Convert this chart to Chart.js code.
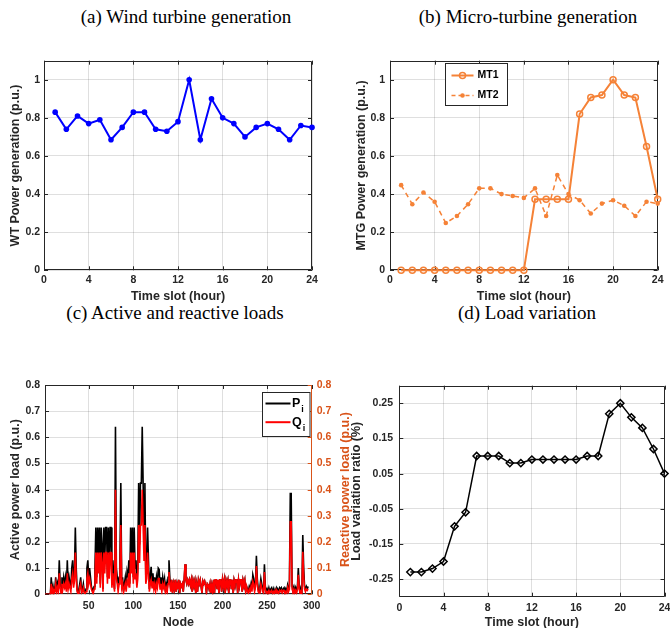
<!DOCTYPE html>
<html>
<head>
<meta charset="utf-8">
<script src="https://cdn.jsdelivr.net/npm/chart.js@4.4.0/dist/chart.umd.min.js"></script>
<style>
  html, body { margin: 0; padding: 0; background: #fff; overflow: hidden; }
  #page { position: relative; width: 670px; height: 628px; overflow: hidden; }
  canvas { position: absolute; }
  .ttl { position: absolute; font-family: 'Liberation Serif', 'Times New Roman', serif; font-size: 19px; color: #000; white-space: nowrap; transform: translate(-50%, -50%); }
</style>
</head>
<body>
<div id="page">
  <div class="ttl" style="left:186px;top:17px">(a) Wind turbine generation</div>
  <div class="ttl" style="left:528px;top:17px">(b) Micro-turbine generation</div>
  <div class="ttl" style="left:175px;top:313px">(c) Active and reactive loads</div>
  <div class="ttl" style="left:527px;top:313px">(d) Load variation</div>
  <canvas id="cA" width="330" height="270" style="left:0;top:40px"></canvas>
  <canvas id="cB" width="335" height="270" style="left:335px;top:40px"></canvas>
  <canvas id="cC" width="354" height="296" style="left:0;top:340px"></canvas>
  <canvas id="cD" width="325" height="296" style="left:345px;top:340px"></canvas>
</div>
<script>
// time slots and per-hour series
const hours = [1, 2, 3, 4, 5, 6, 7, 8, 9, 10, 11, 12, 13, 14, 15, 16, 17, 18, 19, 20, 21, 22, 23, 24]
const wtGen = [0.83, 0.74, 0.81, 0.77, 0.79, 0.685, 0.75, 0.83, 0.83, 0.74, 0.73, 0.78,
  1.0, 0.685, 0.90, 0.80, 0.77, 0.70, 0.75, 0.77, 0.74, 0.685, 0.76, 0.75]
const mt1Gen = [0, 0, 0, 0, 0, 0, 0, 0, 0, 0, 0, 0,
  0.373, 0.373, 0.373, 0.373, 0.82, 0.907, 0.92, 1.0, 0.92, 0.907, 0.65, 0.373]
const mt2Gen = [0.447, 0.347, 0.408, 0.36, 0.248, 0.285, 0.347, 0.43, 0.43, 0.40, 0.39, 0.38,
  0.43, 0.285, 0.50, 0.40, 0.368, 0.298, 0.35, 0.368, 0.339, 0.285, 0.36, 0.35]
const loadVar = [-0.23, -0.23, -0.22, -0.20, -0.10, -0.06, 0.10, 0.10, 0.10, 0.08, 0.08, 0.09,
  0.09, 0.09, 0.09, 0.09, 0.10, 0.10, 0.22, 0.25, 0.21, 0.18, 0.12, 0.05]

// active load per node (1..296)
const pLoad = [
  0, 0, 0, 0, 0, 0, 0, 0.065, 0.005, 0.03,
  0.005, 0.02, 0.065, 0.01, 0.04, 0.02, 0.13, 0.04, 0.01, 0.065,
  0.03, 0.065, 0.04, 0.065, 0.02, 0.13, 0.03, 0.065, 0.065, 0.02,
  0.1, 0.13, 0.04, 0.08, 0.255, 0.1, 0.02, 0.005, 0.02, 0.04,
  0.065, 0.01, 0.02, 0.04, 0.01, 0.005, 0.02, 0.1, 0.13, 0.065,
  0.1, 0.065, 0.03, 0.02, 0.005, 0.03, 0.1, 0.255, 0.065, 0.255,
  0.13, 0.255, 0.04, 0.255, 0.19, 0.02, 0.255, 0.13, 0.255, 0.255,
  0.065, 0.255, 0.1, 0.255, 0.255, 0.04, 0.13, 0.065, 0.02, 0.64,
  0.1, 0.065, 0.02, 0.065, 0.13, 0.425, 0.04, 0.065, 0.01, 0.04,
  0.065, 0.02, 0.085, 0.065, 0.13, 0.04, 0.255, 0.13, 0.255, 0.065,
  0.255, 0.1, 0.13, 0.04, 0.1, 0.425, 0.19, 0.425, 0.425, 0.64,
  0.425, 0.2, 0.425, 0.065, 0.1, 0.255, 0.13, 0.02, 0.065, 0.105,
  0.04, 0.08, 0.03, 0.065, 0.02, 0.065, 0.04, 0.1, 0.095, 0.03,
  0.065, 0.02, 0.065, 0.04, 0.06, 0.01, 0.04, 0.02, 0.065, 0.13,
  0.06, 0.02, 0.055, 0.005, 0.04, 0.02, 0.055, 0.01, 0.04, 0.02,
  0.055, 0.005, 0.04, 0.03, 0.04, 0.01, 0.055, 0.115, 0.055, 0.04,
  0.055, 0.04, 0.055, 0.035, 0.055, 0.01, 0.055, 0.04, 0.055, 0.005,
  0.04, 0.01, 0.055, 0.04, 0.055, 0.03, 0.005, 0.05, 0.04, 0.05,
  0.035, 0.005, 0.04, 0.035, 0.02, 0.04, 0.005, 0.035, 0.01, 0.055,
  0.005, 0.055, 0.055, 0.02, 0.055, 0.005, 0.055, 0.055, 0.01, 0.055,
  0.03, 0.055, 0.005, 0.055, 0.04, 0.055, 0.005, 0.055, 0.055, 0.02,
  0.055, 0.005, 0.055, 0.04, 0.055, 0.055, 0.005, 0.055, 0.03, 0.055,
  0.055, 0.01, 0.055, 0.04, 0.055, 0.01, 0.03, 0.02, 0.01, 0.03,
  0.02, 0.04, 0.02, 0.075, 0.06, 0.02, 0.04, 0.147, 0.06, 0.02,
  0.01, 0.03, 0.06, 0.04, 0.02, 0.01, 0.115, 0.03, 0.01, 0.02,
  0.01, 0.025, 0.01, 0.02, 0.025, 0.005, 0.02, 0.005, 0.02, 0.01,
  0.025, 0.02, 0.005, 0.025, 0.02, 0.025, 0.01, 0.02, 0.025, 0.005,
  0.02, 0.01, 0.035, 0.02, 0.03, 0.385, 0.385, 0.03, 0.02, 0.03,
  0.01, 0.025, 0.01, 0.03, 0.1, 0.03, 0.005, 0.02, 0.01, 0.227,
  0.1, 0.03, 0.02, 0.03, 0.02, 0.03
]
// reactive load per node (1..296)
const qLoad = [
  0, 0, 0, 0, 0, 0, 0, 0.04, 0.003, 0.02,
  0.003, 0.01, 0.04, 0.005, 0.025, 0.01, 0.08, 0.025, 0.005, 0.04,
  0.02, 0.04, 0.025, 0.04, 0.01, 0.08, 0.02, 0.04, 0.04, 0.01,
  0.06, 0.08, 0.025, 0.05, 0.16, 0.06, 0.01, 0.003, 0.01, 0.025,
  0.04, 0.005, 0.01, 0.025, 0.005, 0.003, 0.01, 0.06, 0.08, 0.04,
  0.06, 0.04, 0.02, 0.01, 0.003, 0.02, 0.06, 0.16, 0.04, 0.16,
  0.08, 0.16, 0.025, 0.16, 0.12, 0.01, 0.16, 0.08, 0.16, 0.16,
  0.04, 0.16, 0.06, 0.16, 0.16, 0.025, 0.08, 0.04, 0.01, 0.4,
  0.06, 0.04, 0.01, 0.04, 0.08, 0.265, 0.025, 0.04, 0.005, 0.025,
  0.04, 0.01, 0.05, 0.04, 0.08, 0.025, 0.16, 0.08, 0.16, 0.04,
  0.16, 0.06, 0.08, 0.025, 0.06, 0.265, 0.12, 0.265, 0.265, 0.4,
  0.265, 0.13, 0.265, 0.04, 0.06, 0.16, 0.08, 0.01, 0.04, 0.055,
  0.025, 0.05, 0.02, 0.04, 0.01, 0.04, 0.025, 0.06, 0.06, 0.02,
  0.04, 0.01, 0.04, 0.025, 0.04, 0.005, 0.025, 0.01, 0.04, 0.085,
  0.04, 0.01, 0.055, 0.005, 0.04, 0.02, 0.055, 0.01, 0.04, 0.02,
  0.055, 0.005, 0.04, 0.03, 0.04, 0.01, 0.055, 0.115, 0.055, 0.04,
  0.055, 0.04, 0.055, 0.035, 0.055, 0.01, 0.055, 0.04, 0.055, 0.005,
  0.04, 0.01, 0.055, 0.04, 0.055, 0.03, 0.005, 0.05, 0.04, 0.05,
  0.035, 0.005, 0.04, 0.035, 0.02, 0.04, 0.005, 0.035, 0.01, 0.055,
  0.005, 0.055, 0.055, 0.02, 0.055, 0.005, 0.055, 0.055, 0.01, 0.055,
  0.03, 0.055, 0.005, 0.055, 0.04, 0.055, 0.005, 0.055, 0.055, 0.02,
  0.055, 0.005, 0.055, 0.04, 0.055, 0.055, 0.005, 0.055, 0.03, 0.055,
  0.055, 0.01, 0.055, 0.04, 0.055, 0.01, 0.03, 0.01, 0.005, 0.02,
  0.01, 0.03, 0.01, 0.05, 0.04, 0.01, 0.03, 0.108, 0.04, 0.01,
  0.005, 0.02, 0.04, 0.025, 0.01, 0.005, 0.085, 0.02, 0.005, 0.01,
  0.005, 0.015, 0.005, 0.01, 0.015, 0.003, 0.01, 0.003, 0.015, 0.005,
  0.015, 0.01, 0.003, 0.015, 0.01, 0.015, 0.005, 0.015, 0.015, 0.003,
  0.01, 0.005, 0.025, 0.01, 0.02, 0.277, 0.277, 0.02, 0.01, 0.02,
  0.005, 0.015, 0.005, 0.02, 0.075, 0.02, 0.003, 0.01, 0.005, 0.163,
  0.07, 0.02, 0.01, 0.02, 0.015, 0.02
]
const nodes = pLoad.map((v, i) => i + 1)

// tick values
const hourTicks = [0, 4, 8, 12, 16, 20, 24]
const genTicks = [0, 0.2, 0.4, 0.6, 0.8, 1]
const nodeTicks = [50, 100, 150, 200, 250, 300]
const loadTicks = [0, 0.1, 0.2, 0.3, 0.4, 0.5, 0.6, 0.7, 0.8]
const varTicks = [-0.25, -0.15, -0.05, 0.05, 0.15, 0.25]

const AX = '#262626'
const GRID = 'rgba(38,38,38,0.15)'
const ORANGE = 'rgb(245,130,55)'
const RIGHT_C = '#D95319'
const tickFont = { family: 'Liberation Sans', size: 10.5, weight: 'bold' }
const titleFont = { family: 'Liberation Sans', size: 12.5, weight: 'bold' }

const xAxis = (min, max, ticks, text, h, tpad) => ({
  type: 'linear', min, max,
  afterBuildTicks: s => { s.ticks = ticks.map(v => ({ value: v })) },
  afterFit: s => { s.height = h; s.paddingLeft = 0; s.paddingRight = 0 },
  grid: { color: GRID, drawTicks: false },
  border: { display: false },
  ticks: { color: AX, font: tickFont, padding: tpad, maxRotation: 0, autoSkip: false, callback: v => String(v) },
  title: { display: true, text, color: AX, font: titleFont, padding: { top: 0, bottom: 5.5 } }
})

const yAxis = (min, max, ticks, text, w, tpad, titlePad) => ({
  type: 'linear', position: 'left', min, max,
  afterBuildTicks: s => { s.ticks = ticks.map(v => ({ value: v })) },
  afterFit: s => { s.width = w; s.paddingTop = 0; s.paddingBottom = 0 },
  grid: { color: GRID, drawTicks: false },
  border: { display: false },
  ticks: { color: AX, font: tickFont, padding: tpad, autoSkip: false, callback: v => String(v) },
  title: { display: !!text, text, color: AX, font: titleFont, padding: { top: titlePad, bottom: 0 } }
})

// box round the axes with inward tick marks, like the original figure
const framePlugin = {
  id: 'frame',
  beforeDatasetsDraw(chart, args, opts) {
    const { ctx, chartArea: a, scales } = chart
    const len = 4
    const r = opts.right
    ctx.save()
    ctx.lineWidth = 1
    ctx.strokeStyle = AX
    ctx.beginPath()
    scales.x.ticks.forEach(t => {
      const px = Math.round(scales.x.getPixelForValue(t.value)) + 0.5
      ctx.moveTo(px, a.bottom); ctx.lineTo(px, a.bottom - len)
      ctx.moveTo(px, a.top); ctx.lineTo(px, a.top + len)
    })
    scales.y.ticks.forEach(t => {
      const py = Math.round(scales.y.getPixelForValue(t.value)) + 0.5
      ctx.moveTo(a.left, py); ctx.lineTo(a.left + len, py)
      if (!r) { ctx.moveTo(a.right, py); ctx.lineTo(a.right - len, py) }
    })
    const L = Math.round(a.left) + 0.5, R = Math.round(a.right) - 0.5
    const T = Math.round(a.top) + 0.5, B = Math.round(a.bottom) - 0.5
    ctx.moveTo(R, T); ctx.lineTo(L, T); ctx.lineTo(L, B); ctx.lineTo(R, B)
    if (!r) ctx.lineTo(R, T)
    ctx.stroke()
    if (r) {
      ctx.strokeStyle = r
      ctx.beginPath()
      ctx.moveTo(R, T); ctx.lineTo(R, B)
      scales.y2.ticks.forEach(t => {
        const py = Math.round(scales.y2.getPixelForValue(t.value)) + 0.5
        ctx.moveTo(a.right, py); ctx.lineTo(a.right - len, py)
      })
      ctx.stroke()
      // right axis title reads bottom to top
      ctx.fillStyle = r
      ctx.font = 'bold 12.5px "Liberation Sans"'
      ctx.textAlign = 'center'
      ctx.textBaseline = 'middle'
      ctx.translate(a.right + opts.titleOffset, (a.top + a.bottom) / 2)
      ctx.rotate(-Math.PI / 2)
      ctx.fillText(opts.title, 0, 0)
    }
    ctx.restore()
  }
}

// boxed legend with line samples
const boxLegend = {
  id: 'boxLegend',
  afterDatasetsDraw(chart, args, o) {
    if (!o.items) return
    const { ctx, chartArea: a } = chart
    const x = Math.round(a.left + o.x) + 0.5, y = Math.round(a.top + o.y) + 0.5
    ctx.save()
    ctx.fillStyle = '#fff'
    ctx.fillRect(x, y, o.w, o.h)
    ctx.strokeStyle = AX
    ctx.lineWidth = 1
    ctx.strokeRect(x, y, o.w, o.h)
    o.items.forEach((it, i) => {
      const cy = y + o.first + i * o.rowH
      ctx.strokeStyle = it.color
      ctx.lineWidth = it.width
      ctx.setLineDash(it.dash || [])
      ctx.beginPath()
      ctx.moveTo(x + o.l0, cy); ctx.lineTo(x + o.l1, cy)
      ctx.stroke()
      ctx.setLineDash([])
      const mx = x + (o.l0 + o.l1) / 2
      if (it.marker === 'ring') {
        ctx.lineWidth = 1.5
        ctx.beginPath(); ctx.arc(mx, cy, 3, 0, Math.PI * 2); ctx.stroke()
      } else if (it.marker === 'dot') {
        ctx.fillStyle = it.color
        ctx.beginPath(); ctx.arc(mx, cy, 2.3, 0, Math.PI * 2); ctx.fill()
      }
      ctx.fillStyle = '#000'
      ctx.textBaseline = 'middle'
      ctx.textAlign = 'left'
      ctx.font = o.font
      ctx.fillText(it.text, x + o.tx, cy)
      if (it.sub) {
        const w = ctx.measureText(it.text).width
        ctx.font = o.subFont
        ctx.fillText(it.sub, x + o.tx + w + 1, cy + 6.5)
      }
    })
    ctx.restore()
  }
}

Chart.register(framePlugin, boxLegend)
Chart.defaults.animation = false
Chart.defaults.events = []
Chart.defaults.plugins.legend.display = false
Chart.defaults.plugins.tooltip.enabled = false

// (a) wind turbine
new Chart(document.getElementById('cA'), {
  type: 'line',
  data: {
    labels: hours,
    datasets: [{
      data: wtGen, borderColor: '#0000FF', backgroundColor: '#0000FF', borderWidth: 2,
      pointRadius: 2.8, pointBorderWidth: 0, clip: false
    }]
  },
  options: {
    responsive: false,
    layout: { padding: { left: 0, right: 18, top: 20.7, bottom: 0 } },
    scales: {
      x: xAxis(0, 24, hourTicks, 'Time slot (hour)', 39.7, 4),
      y: yAxis(0, 1.1, genTicks, 'WT Power generation (p.u.)', 44, 4, 8)
    }
  }
})

// (b) micro turbines
new Chart(document.getElementById('cB'), {
  type: 'line',
  data: {
    labels: hours,
    datasets: [{
      label: 'MT1', data: mt1Gen, borderColor: ORANGE, borderWidth: 2,
      pointRadius: 3, pointBorderWidth: 1.5, pointBackgroundColor: 'rgba(0,0,0,0)', pointBorderColor: ORANGE, clip: false
    }, {
      label: 'MT2', data: mt2Gen, borderColor: ORANGE, borderWidth: 1.5, borderDash: [5, 4],
      pointRadius: 2.3, pointBorderWidth: 0, pointBackgroundColor: ORANGE, clip: false
    }]
  },
  options: {
    responsive: false,
    layout: { padding: { left: 12, right: 12.3, top: 20.7, bottom: 0 } },
    scales: {
      x: xAxis(0, 24, hourTicks, 'Time slot (hour)', 39.7, 4),
      y: yAxis(0, 1.1, genTicks, 'MTG Power generation (p.u.)', 43, 5, 7.5)
    },
    plugins: {
      boxLegend: {
        x: 55, y: 2.5, w: 62, h: 42, first: 12, rowH: 20, l0: 6, l1: 28, tx: 32,
        font: 'bold 10.5px "Liberation Sans"', subFont: 'bold 8px "Liberation Sans"',
        items: [
          { text: 'MT1', color: ORANGE, width: 2, marker: 'ring' },
          { text: 'MT2', color: ORANGE, width: 1.5, dash: [4, 3], marker: 'dot' }
        ]
      }
    }
  }
})

// (c) active and reactive loads
const yLeftC = yAxis(0, 0.8, loadTicks, 'Active power load (p.u.)', 45, 5, 8.5)
const yRightC = yAxis(0, 0.8, loadTicks, '', 42.3, 5, 0)
yRightC.position = 'right'
yRightC.grid = { display: false, drawTicks: false }
yRightC.ticks.color = RIGHT_C

new Chart(document.getElementById('cC'), {
  type: 'line',
  data: {
    labels: nodes,
    datasets: [{
      label: 'P', data: pLoad, borderColor: '#000000', borderWidth: 1.6, pointRadius: 0, order: 2
    }, {
      label: 'Q', data: qLoad, yAxisID: 'y2', borderColor: '#FF0000', borderWidth: 1.6, pointRadius: 0, order: 1
    }]
  },
  options: {
    responsive: false,
    layout: { padding: { left: 0, right: 0, top: 45, bottom: 0 } },
    scales: {
      x: xAxis(1, 300, nodeTicks, 'Node', 41.7, 5.4),
      y: yLeftC,
      y2: yRightC
    },
    plugins: {
      frame: { right: RIGHT_C, title: 'Reactive power load (p.u.)', titleOffset: 33.5 },
      boxLegend: {
        x: 216.5, y: 6.7, w: 47.5, h: 44, first: 11, rowH: 18.7, l0: 3, l1: 28, tx: 29.5,
        font: 'bold 12.5px "Liberation Sans"', subFont: 'bold 9px "Liberation Sans"',
        items: [
          { text: 'P', sub: 'i', color: '#000000', width: 2 },
          { text: 'Q', sub: 'i', color: '#FF0000', width: 2 }
        ]
      }
    }
  }
})

// (d) load variation
new Chart(document.getElementById('cD'), {
  type: 'line',
  data: {
    labels: hours,
    datasets: [{
      data: loadVar, borderColor: '#000000', borderWidth: 1.5,
      pointStyle: 'rectRot', pointRadius: 3.6, pointBorderWidth: 1.5,
      pointBorderColor: '#000000', pointBackgroundColor: 'rgba(0,0,0,0)', clip: false
    }]
  },
  options: {
    responsive: false,
    layout: { padding: { left: 0, right: 5, top: 45.7, bottom: 0 } },
    scales: {
      x: xAxis(0, 24, hourTicks, 'Time slot (hour)', 39.3, 4.7),
      y: yAxis(-0.3, 0.3, varTicks, 'Load variation ratio (%)', 54.3, 6.3, 4.5)
    }
  }
})
</script>
</body>
</html>
